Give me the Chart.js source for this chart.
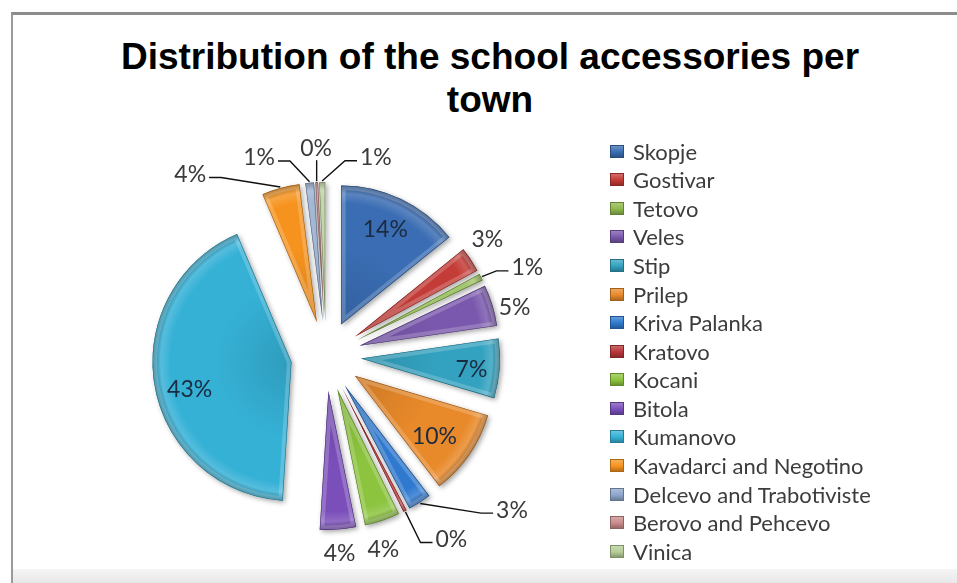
<!DOCTYPE html>
<html>
<head>
<meta charset="utf-8">
<script src="https://cdn.jsdelivr.net/npm/chart.js@4.4.1/dist/chart.umd.min.js"></script>
<style>
  html, body { margin: 0; padding: 0; background: #fff; width: 957px; height: 583px; overflow: hidden; }
  #frame { position: absolute; left: 11px; top: 12px; width: 946px; height: 571px;
           border-top: 3px solid #8c8c8c; border-left: 2px solid #9a9a9a; box-sizing: border-box; }
  #foot { position: absolute; left: 13px; right: 0; top: 569px; height: 14px;
          background: linear-gradient(#f5f5f5, #e8e8e8); }
  #title { position: absolute; left: 23px; right: 0; top: 35px; text-align: center;
           font: bold 37px/43px "Liberation Sans", Arial, sans-serif; color: #000; }
  #legend { position: absolute; left: 610px; top: 137px; font: 22px Lato, sans-serif; color: #3c3c3c; }
  .row { height: 28.57px; display: flex; align-items: center; white-space: nowrap; }
  .sw { width: 14px; height: 13px; margin-right: 9px; box-sizing: border-box; }
  canvas { position: absolute; left: 0; top: 0; }
</style>
</head>
<body>
<div id="frame"></div>
<div id="foot"></div>
<div id="title">Distribution of the school accessories per<br>town</div>
<canvas id="pie" width="957" height="583"></canvas>
<div id="legend"></div>
<script>
// Towns, in drawing order (clockwise from 12 o'clock)
const towns = [
  'Skopje', 'Gostivar', 'Tetovo', 'Veles', 'Stip', 'Prilep', 'Kriva Palanka',
  'Kratovo', 'Kocani', 'Bitola', 'Kumanovo', 'Kavadarci and Negotino',
  'Delcevo and Trabotiviste', 'Berovo and Pehcevo', 'Vinica'
];
// Share of school accessories per town (percent)
const shares = [14.2, 2.9, 0.8, 4.8, 6.9, 10.0, 2.7, 0.4, 4.1, 4.2, 42.6, 4.4, 1.0, 0.3, 0.7];
// Slice colours
const sliceColors = [
  '#3a6db3', '#c43c37', '#8fb84e', '#7a58ad', '#33a2c0', '#e8892a', '#2f79cf',
  '#b8353a', '#8cc43f', '#7b4fba', '#35b1d6', '#f6931e', '#8ea6cb', '#c98c8b', '#b6cd97'
];
// Where each percentage label sits: radius factor, angular nudge (deg), leader line
const labelPlace = [
  { r: 0.75, da: -0.5 }, { r: 1.18, da: -2.6 }, { r: 1.33, da: 4, leader: true },
  { r: 1.15, da: 2.9 }, { r: 0.80, da: 1.8 }, { r: 0.72, da: 2.7 },
  { r: 1.50, da: -20.7, leader: true }, { r: 1.35, da: -8.7, leader: true },
  { r: 1.20, da: 2.9 }, { r: 1.17, da: 0 }, { r: 0.76, da: -5.7 },
  { r: 1.40, da: -25.5, leader: true }, { r: 1.26, da: -15.9, leader: true },
  { r: 1.245, da: 0.4, leader: true }, { r: 1.23, da: 18.5, leader: true }
];

function shade(hex, amt) {
  const n = parseInt(hex.slice(1), 16);
  const r = (n >> 16) & 255, g = (n >> 8) & 255, b = n & 255;
  const f = c => Math.round(amt < 0 ? c * (1 + amt) : c + (255 - c) * amt);
  return `rgb(${f(r)},${f(g)},${f(b)})`;
}

// Legend built from the same arrays
const legend = document.getElementById('legend');
towns.forEach((t, i) => {
  const row = document.createElement('div');
  row.className = 'row';
  const sw = document.createElement('span');
  sw.className = 'sw';
  const c = sliceColors[i];
  sw.style.background = `linear-gradient(to bottom, ${shade(c, 0.25)} 0%, ${c} 55%, ${shade(c, -0.25)} 100%)`;
  sw.style.border = `1px solid ${shade(c, -0.3)}`;
  row.appendChild(sw);
  row.appendChild(document.createTextNode(t));
  legend.appendChild(row);
});

const RADIUS = 139;
const EXPLODE = 35;

// Arc that is pulled straight out along its bisector by `offset` pixels
// and painted with a bevelled, shadowed look.
class BevelArc extends Chart.ArcElement {
  static id = 'bevelArc';
  static defaults = { ...Chart.ArcElement.defaults };
  static defaultRoutes = Chart.ArcElement.defaultRoutes;

  apex() {
    const mid = (this.startAngle + this.endAngle) / 2;
    const d = this.options.offset || 0;
    return { ax: this.x + Math.cos(mid) * d, ay: this.y + Math.sin(mid) * d, mid };
  }

  draw(ctx) {
    const o = this.options;
    const { ax, ay } = this.apex();
    const R = this.outerRadius;
    const base = o.backgroundColor;
    const path = () => {
      ctx.beginPath();
      ctx.moveTo(ax, ay);
      ctx.arc(ax, ay, R, this.startAngle, this.endAngle);
      ctx.closePath();
    };
    const g = ctx.createRadialGradient(ax, ay, 0, ax, ay, R);
    g.addColorStop(0, shade(base, -0.12));
    g.addColorStop(0.55, base);
    g.addColorStop(0.87, base);
    g.addColorStop(0.94, shade(base, 0.16));
    g.addColorStop(1, shade(base, -0.3));
    ctx.save();
    path();
    ctx.shadowColor = 'rgba(0,0,0,0.35)';
    ctx.shadowBlur = 5;
    ctx.shadowOffsetX = 2;
    ctx.shadowOffsetY = 2;
    ctx.fillStyle = g;
    ctx.fill();
    ctx.shadowColor = 'rgba(0,0,0,0)';
    ctx.clip();
    ctx.lineJoin = 'round';
    ctx.strokeStyle = 'rgba(255,255,255,0.2)';
    ctx.lineWidth = 9;
    ctx.stroke();
    ctx.strokeStyle = o.borderColor;
    ctx.lineWidth = o.borderWidth * 2;
    ctx.stroke();
    ctx.restore();
  }
}

class ExplodedPie extends Chart.PieController {
  static id = 'explodedPie';
  static defaults = { dataElementType: 'bevelArc' };
  static overrides = Chart.PieController.overrides;
}

Chart.register(BevelArc, ExplodedPie);

// Percentage labels with leader lines for the narrow slices
const labelPlugin = {
  id: 'pctLabels',
  afterDatasetsDraw(chart) {
    const ctx = chart.ctx;
    const meta = chart.getDatasetMeta(0);
    const total = shares.reduce((s, v) => s + v, 0);
    ctx.save();
    ctx.font = '23px Lato, sans-serif';
    ctx.textAlign = 'center';
    ctx.textBaseline = 'middle';
    meta.data.forEach((el, i) => {
      const pl = labelPlace[i];
      const { ax, ay, mid } = el.apex();
      const R = el.outerRadius;
      const ang = mid + pl.da * Math.PI / 180;
      const lx = ax + Math.cos(ang) * R * pl.r;
      const ly = ay + Math.sin(ang) * R * pl.r;
      const text = Math.round(shares[i] / total * 100) + '%';
      const inside = pl.r < 1;
      if (pl.leader) {
        const tw = ctx.measureText(text).width;
        const sx = ax + Math.cos(mid) * (R + 1);
        const sy = ay + Math.sin(mid) * (R + 1);
        ctx.beginPath();
        ctx.strokeStyle = '#111';
        ctx.lineWidth = 1.4;
        ctx.moveTo(sx, sy);
        if (Math.abs(lx - sx) < tw / 2) {
          ctx.lineTo(sx, ly + 12);
        } else {
          const dir = lx > sx ? 1 : -1;
          const ex = lx - dir * (tw / 2 + 3), ey = ly + 3;
          ctx.lineTo(ex - dir * 12, ey);
          ctx.lineTo(ex, ey);
        }
        ctx.stroke();
      }
      ctx.fillStyle = inside ? '#1b2b40' : '#3a3a3a';
      ctx.fillText(text, lx, ly);
    });
    ctx.restore();
  }
};

new Chart(document.getElementById('pie'), {
  type: 'explodedPie',
  data: {
    labels: towns,
    datasets: [{
      data: shares,
      backgroundColor: sliceColors,
      borderColor: sliceColors.map(c => shade(c, -0.35)),
      borderWidth: 0.6,
      offset: EXPLODE,
      clip: false
    }]
  },
  options: {
    responsive: false,
    animation: false,
    radius: RADIUS,
    layout: { padding: { left: 170, right: 475, top: 200, bottom: 71 } },
    plugins: {
      legend: { display: false },
      title: { display: false },
      tooltip: { enabled: false }
    }
  },
  plugins: [labelPlugin]
});
</script>
</body>
</html>
